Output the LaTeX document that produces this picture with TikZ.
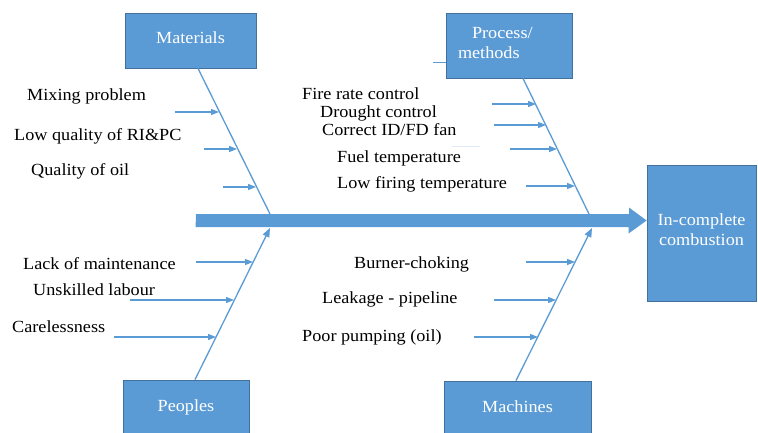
\documentclass[tikz,border=0pt]{standalone}
\usepackage{fontspec}
\setmainfont{Liberation Serif}[FakeStretch=1.07]
\usetikzlibrary{arrows.meta,calc}
\definecolor{boxblue}{HTML}{5B9BD5}
\definecolor{edgeblue}{HTML}{41719C}
\tikzset{
    catbox/.style={draw=edgeblue, fill=boxblue, inner sep=0pt, line width=0.8pt},
    boxtxt/.style={text=white, inner sep=0pt, yshift=3pt},
    bone/.style={draw=boxblue, line width=1.3pt},
    cause/.style={draw=boxblue, line width=1.1pt, -{Triangle[length=8pt,width=6pt]}},
    lbl/.style={anchor=west, inner sep=0pt, yshift=-1.5pt}
}

\begin{document}
\begin{tikzpicture}[x=1pt, y=-1pt, font=\fontsize{17}{20}\selectfont]
            \useasboundingbox (0,0) rectangle (758,433);

            \node[catbox, minimum width=131, minimum height=55, label={[boxtxt]center:Materials}] (mat) at (190.5,40.5) {};
            \node[catbox, minimum width=126, minimum height=65, label={[boxtxt, text width=102, align=left]center:\hspace*{14pt}Process/\\methods}] (proc) at (509,45.5) {};
            \node[catbox, minimum width=126, minimum height=60, label={[boxtxt]center:Peoples}] (peop) at (186,410) {};
            \node[catbox, minimum width=147, minimum height=60, label={[boxtxt, yshift=1pt]center:Machines}] (mach) at (517.5,411) {};
            \node[catbox, minimum width=109, minimum height=136, label={[boxtxt, align=center]center:In-complete\\combustion}] (effect) at (701.5,233) {};

            \coordinate (tail) at (196,220.5);
            \fill[boxblue] (tail) ++(0,-6.5) -- ++(433,0) -- ++(0,-6.5) -- (effect.west |- tail) -- ++(-18,13) -- ++(0,-6.5) -- ++(-433,0) -- cycle;

            \coordinate (jm) at (270,214);
            \coordinate (jp) at (589,214);
            \coordinate (jpe) at (270,228);
            \coordinate (jma) at (592,228);

            \draw[bone] ([xshift=7.5]mat.south) -- (jm);
            \draw[bone] ([xshift=14]proc.south) -- (jp);
            \draw[bone, -{Triangle[length=9pt,width=7pt]}] ([xshift=9]peop.north) -- (jpe);
            \draw[bone, -{Triangle[length=9pt,width=7pt]}] ([xshift=-1.5]mach.north) -- (jma);

            \draw[boxblue, line width=1pt] (433,63) -- (proc.west |- 0,63);
            \draw[boxblue!20, line width=1pt] (452,147) -- (480,147);

            \draw[cause] (175,112) -- (219,112);
            \draw[cause] (204,149) -- (237,149);
            \draw[cause] (223,187) -- (256,187);

            \draw[cause] (492,104) -- (536,104);
            \draw[cause] (494,125) -- (546,125);
            \draw[cause] (510,149) -- (557,149);
            \draw[cause] (526,186) -- (575,186);

            \draw[cause] (196,262) -- (253,262);
            \draw[cause] (130,300) -- (234,300);
            \draw[cause] (114,337) -- (216,337);

            \draw[cause] (526,262) -- (575,262);
            \draw[cause] (494,300) -- (556,300);
            \draw[cause] (474,337) -- (538,337);

            \node[lbl] (m1) at (27,95) {Mixing problem};
            \node[lbl] (m2) at (14,135) {Low quality of RI\&PC};
            \node[lbl] (m3) at (31,170) {Quality of oil};

            \node[lbl] (p1) at (302,92) {Fire rate control};
            \node[lbl] (p2) at (320,112) {Drought control};
            \node[lbl] (p3) at (322,128) {Correct ID/FD fan};
            \node[lbl] (p4) at (337,157) {Fuel temperature};
            \node[lbl] (p5) at (337,183) {Low firing temperature};

            \node[lbl] (e1) at (23,262) {Lack of maintenance};
            \node[lbl] (e2) at (33,288) {Unskilled labour};
            \node[lbl] (e3) at (12,325) {Carelessness};

            \node[lbl] (c1) at (354,263) {Burner-choking};
            \node[lbl] (c2) at (322,298) {Leakage - pipeline};
            \node[lbl] (c3) at (302,336) {Poor pumping (oil)};
        \end{tikzpicture}
\end{document}
